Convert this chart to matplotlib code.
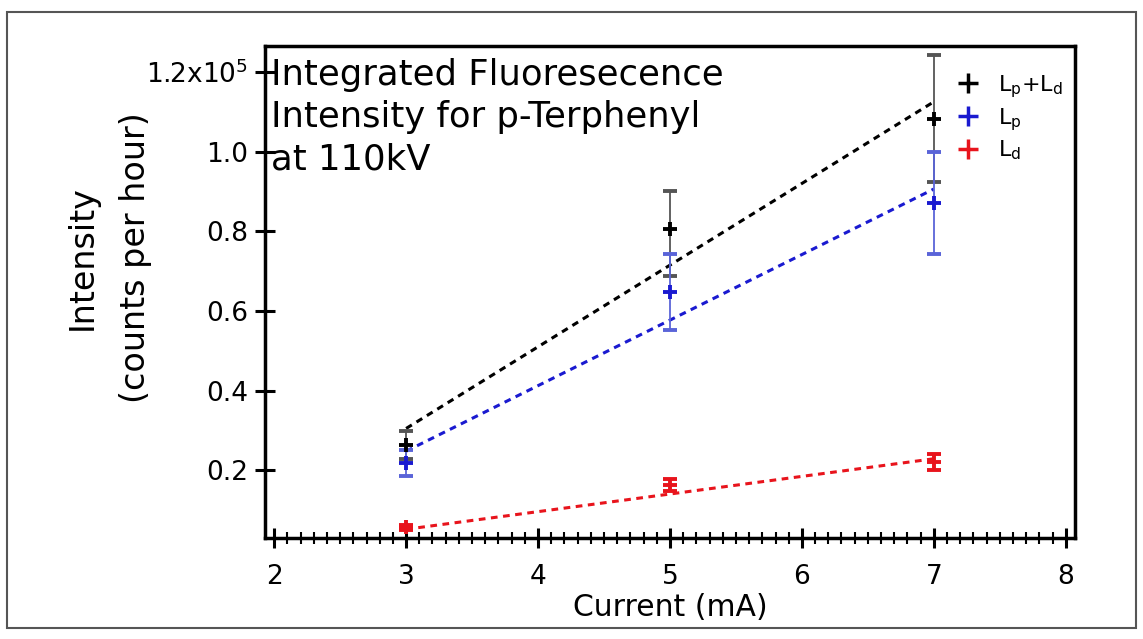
import matplotlib.pyplot as plt
from matplotlib.lines import Line2D
from matplotlib.patches import Rectangle
from matplotlib.ticker import MultipleLocator, FixedLocator

plt.rcParams['font.family'] = ['DejaVu Sans']

# Data (intensity in units of 1e5 counts per hour)
current = [3, 5, 7]
total = [0.263, 0.805, 1.083]
total_err_lo = [0.035, 0.118, 0.160]
total_err_hi = [0.035, 0.096, 0.160]
lp = [0.218, 0.647, 0.871]
lp_err = [0.033, 0.096, 0.129]
ld = [0.057, 0.163, 0.221]
ld_err = [0.006, 0.015, 0.021]

# fitted lines, read at the end points
fit_x = [3, 7]
fit_total = [0.305, 1.125]
fit_lp = [0.248, 0.906]
fit_ld = [0.052, 0.229]

ytick_vals = [0.2, 0.4, 0.6, 0.8, 1.0, 1.2]
ytick_labels = ["0.2", "0.4", "0.6", "0.8", "1.0", r"1.2x10$^{\mathregular{5}}$"]

black = "#000000"
blue = "#1a1ad0"
red = "#e8141c"

fig = plt.figure(figsize=(11.43, 6.39), dpi=100)
ax = fig.add_axes([0.2318, 0.158, 0.7087, 0.770])

# outer frame around the whole figure
fig.patches.append(Rectangle((7 / 1143, 1 - 628 / 639), 1129 / 1143, 616 / 639,
                             transform=fig.transFigure, fill=False,
                             edgecolor="#555555", linewidth=1.5))

dash = (0, (2.2, 1.8))
ax.plot(fit_x, fit_total, color=black, linestyle=dash, linewidth=2.2)
ax.plot(fit_x, fit_lp, color=blue, linestyle=dash, linewidth=2.2)
ax.plot(fit_x, fit_ld, color=red, linestyle=dash, linewidth=2.2)

eb_kw = dict(fmt="+", markersize=10, markeredgewidth=2.8, capsize=5,
             elinewidth=1.3, capthick=1.3)
ax.errorbar(current, total, yerr=[total_err_lo, total_err_hi], color=black,
            ecolor="#555555", **eb_kw)
ax.errorbar(current, lp, yerr=lp_err, color=blue, ecolor="#5a64d8", **eb_kw)
ax.errorbar(current, ld, yerr=ld_err, color=red, ecolor=red, **eb_kw)

ax.set_xlim(1.93, 8.07)
ax.set_ylim(0.03, 1.265)

ax.xaxis.set_major_locator(MultipleLocator(1))
ax.xaxis.set_minor_locator(MultipleLocator(0.1))
ax.yaxis.set_major_locator(FixedLocator(ytick_vals))
ax.set_yticklabels(ytick_labels)

ax.tick_params(axis="both", which="major", direction="inout", length=14,
               width=2.2, labelsize=19, pad=5)
ax.tick_params(axis="x", which="major", pad=12)
ax.tick_params(axis="x", which="minor", direction="inout", length=8, width=1.5)
ax.tick_params(top=False, right=False)
for s in ax.spines.values():
    s.set_linewidth(2.5)

ax.set_xlabel("Current (mA)", fontsize=21.5, labelpad=2)
ax.set_ylabel("Intensity\n(counts per hour)", fontsize=24, linespacing=1.75)
ax.yaxis.set_label_coords(-0.14, 0.57)

ax.text(0.008, 0.975, "Integrated Fluoresecence\nIntensity for p-Terphenyl\nat 110kV",
        transform=ax.transAxes, ha="left", va="top", fontsize=25.5,
        linespacing=1.3)

handles = [
    Line2D([], [], color=black, marker="+", linestyle="none", markersize=14, markeredgewidth=2.5),
    Line2D([], [], color=blue, marker="+", linestyle="none", markersize=14, markeredgewidth=2.5),
    Line2D([], [], color=red, marker="+", linestyle="none", markersize=14, markeredgewidth=2.5),
]
labels = [r"L$_\mathregular{p}$+L$_\mathregular{d}$", r"L$_\mathregular{p}$",
          r"L$_\mathregular{d}$"]
ax.legend(handles, labels, loc="upper right", bbox_to_anchor=(0.997, 0.966),
          frameon=False, fontsize=16, handletextpad=0.35, borderaxespad=0.25,
          labelspacing=0.28, borderpad=0.2)

fig.savefig("out.png", dpi=100)
